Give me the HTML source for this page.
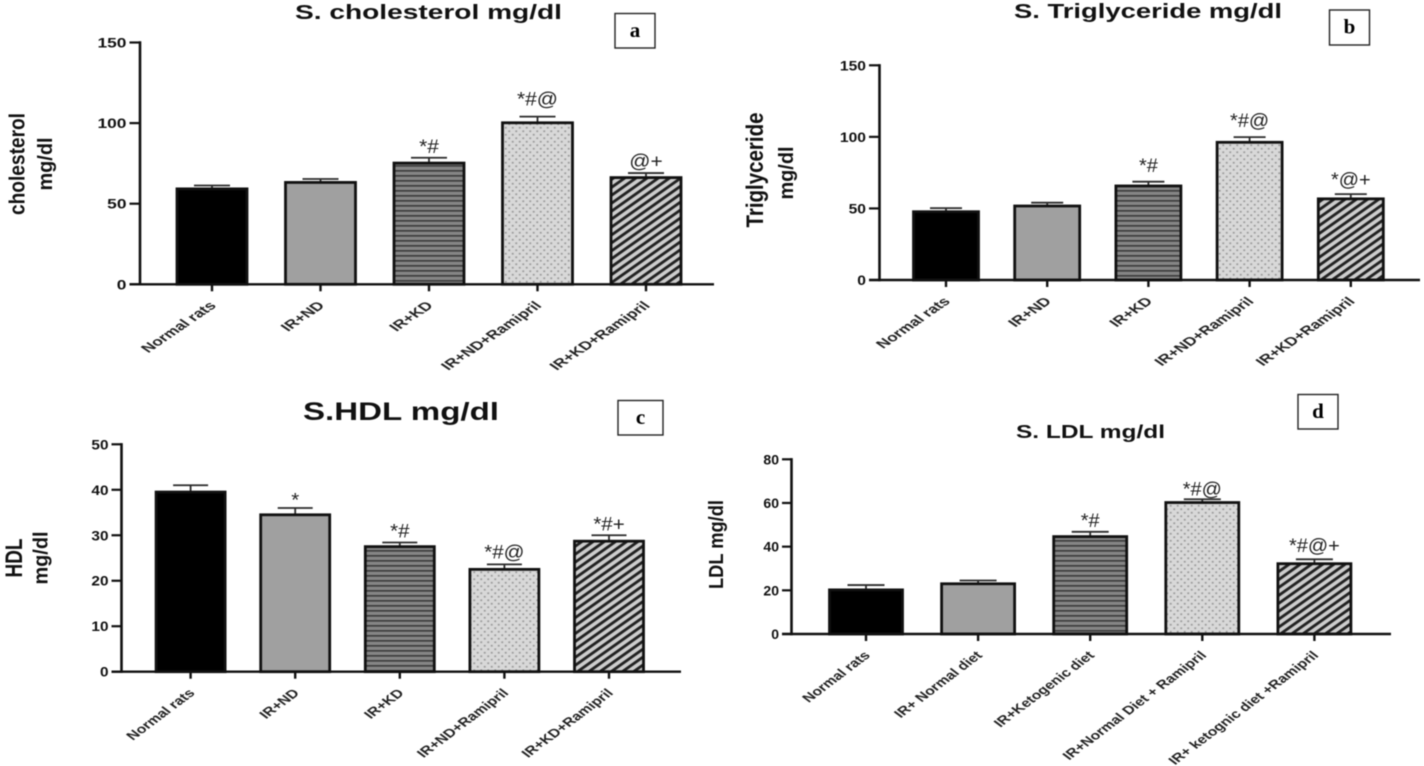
<!DOCTYPE html>
<html>
<head>
<meta charset="utf-8">
<title>Serum lipid profile charts</title>
<style>
html,body{margin:0;padding:0;background:#fff;width:1424px;height:766px;overflow:hidden}
svg{display:block;filter:blur(0.45px)}
text{font-family:"Liberation Sans",sans-serif;fill:#111}
.tick{font-weight:700;font-size:13.5px}
.cat{font-weight:700;font-size:12px;fill:#222}
.ttl{font-weight:700}
.ytl{font-weight:700}
.ann{font-size:19px;fill:#222}
.pl{font-family:"Liberation Serif",serif;font-weight:700;font-size:21px;fill:#000}
</style>
</head>
<body>
<svg id="chart" xmlns="http://www.w3.org/2000/svg" width="1424" height="766" viewBox="0 0 1424 766">
<defs>
<pattern id="p-h" patternUnits="userSpaceOnUse" width="8" height="5"><rect width="8" height="5" fill="#858585"/><rect width="8" height="1.7" fill="#3e3e3e"/></pattern>
<pattern id="p-d" patternUnits="userSpaceOnUse" width="7" height="7"><rect width="7" height="7" fill="#d8d8d8"/><circle cx="1.75" cy="1.75" r="1.05" fill="#9c9c9c"/><circle cx="5.25" cy="5.25" r="1.05" fill="#9c9c9c"/></pattern>
<pattern id="p-s" patternUnits="userSpaceOnUse" width="6.6" height="6.6" patternTransform="scale(1.2,0.85) rotate(45)"><rect width="6.6" height="6.6" fill="#cdcdcd"/><rect width="2.9" height="6.6" fill="#222"/></pattern>
</defs>
</svg>
<script>
// Panel a: serum cholesterol
const aCategories = ["Normal rats","IR+ND","IR+KD","IR+ND+Ramipril","IR+KD+Ramipril"];
const aValues = [59.2,63.2,75.2,100.2,66.2];
const aErrors = [2.1,2.1,3.3,3.8,2.8];
const aTicks = [0,50,100,150];
const aNotes = ["","","*#","*#@","@+"];
// Panel b: serum triglyceride
const bCategories = ["Normal rats","IR+ND","IR+KD","IR+ND+Ramipril","IR+KD+Ramipril"];
const bValues = [47.7,51.7,65.7,96.2,56.7];
const bErrors = [2.5,2.3,3,3.6,3.3];
const bTicks = [0,50,100,150];
const bNotes = ["","","*#","*#@","*@+"];
// Panel c: serum HDL
const cCategories = ["Normal rats","IR+ND","IR+KD","IR+ND+Ramipril","IR+KD+Ramipril"];
const cValues = [39.5,34.5,27.5,22.5,28.7];
const cErrors = [1.5,1.5,0.9,1.1,1.3];
const cTicks = [0,10,20,30,40,50];
const cNotes = ["","*","*#","*#@","*#+"];
// Panel d: serum LDL
const dCategories = ["Normal rats","IR+ Normal diet","IR+Ketogenic diet","IR+Normal Diet + Ramipril","IR+ ketognic diet +Ramipril"];
const dValues = [20.2,23,44.6,60.2,32.2];
const dErrors = [2.2,1.5,2.2,1.5,2];
const dTicks = [0,20,40,60,80];
const dNotes = ["","","*#","*#@","*#@+"];

const fills = ["#000000","#a0a0a0","url(#p-h)","url(#p-d)","url(#p-s)"];
const svg = document.getElementById('chart');
const NS = 'http://www.w3.org/2000/svg';
function make(tag, attrs, parent, txt){
  const n = document.createElementNS(NS, tag);
  for (const k in attrs) n.setAttribute(k, attrs[k]);
  if (txt !== undefined) n.textContent = txt;
  parent.appendChild(n);
  return n;
}
function drawPanel(id, cfg, cats, vals, errs, ticks, notes){
  const g = make('g', {}, svg);
  
  
  const yMax = ticks[ticks.length - 1];
  const y = v => cfg.y0 + (cfg.yTop - cfg.y0) * v / yMax;
  const x = i => cfg.x0 + cfg.step * i;

  // bars, error bars
  vals.forEach((v, i) => {
    const err = make('path', {d:`M${x(i)-cfg.cap/2} ${y(v+errs[i])}H${x(i)+cfg.cap/2}M${x(i)} ${y(v+errs[i])}V${y(v)}`, fill:'none', stroke:'#2a2a2a', 'stroke-width':1.8}, g);
    
    
    const bar = make('rect', {x:x(i)-cfg.bw/2, y:y(v), width:cfg.bw, height:cfg.y0-y(v), fill:fills[i], stroke:'#111', 'stroke-width':2.8}, g);
    
    
    if (notes[i]) {
      const ann = make('text', {class:'ann', 'text-anchor':'middle', transform:`translate(${x(i)},${y(v+errs[i])-cfg.noteGap[i]}) scale(${cfg.noteSx},1)`}, g, notes[i]);
      
      
    }
    const tk = make('line', {x1:x(i), x2:x(i), y1:cfg.y0, y2:cfg.y0+7, stroke:'#111', 'stroke-width':2.4}, g);
    
    
    const lab = make('text', {class:'cat', 'text-anchor':'end', transform:`translate(${x(i)+5},${cfg.y0+22}) scale(${cfg.catSx},1) rotate(-45)`}, g, cats[i]);
    
    
  });

  // axes
  const yAxis = make('line', {x1:cfg.axisX, x2:cfg.axisX, y1:cfg.yTop-1.2, y2:cfg.y0+1.2, stroke:'#111', 'stroke-width':2.6}, g);
  
  
  const xAxis = make('line', {x1:cfg.baseL, x2:cfg.baseR, y1:cfg.y0, y2:cfg.y0, stroke:'#111', 'stroke-width':2.4}, g);
  
  
  ticks.forEach(t => {
    const tk = make('line', {x1:cfg.baseL, x2:cfg.axisX, y1:y(t), y2:y(t), stroke:'#111', 'stroke-width':2.2}, g);
    
    
    const lab = make('text', {class:'tick', 'text-anchor':'end', transform:`translate(${cfg.baseL-3},${y(t)+5}) scale(${cfg.tickSx},1)`}, g, String(t));
    
    
  });

  // title
  const title = make('text', {class:'ttl', x:cfg.title.x, y:cfg.title.y, 'font-size':cfg.title.size, textLength:cfg.title.len, lengthAdjust:'spacingAndGlyphs'}, g, cfg.title.text);
  
  

  // y titles
  cfg.yTitles.forEach(t => {
    const yt = make('text', {class:'ytl', 'text-anchor':'middle', 'font-size':t.size, textLength:t.len, lengthAdjust:'spacingAndGlyphs', transform:`translate(${t.x},${t.y}) rotate(-90)`}, g, t.text);
    
    
  });

  // panel letter box
  const box = make('rect', {x:cfg.box.x, y:cfg.box.y, width:cfg.box.w, height:cfg.box.h, fill:'#fff', stroke:'#222', 'stroke-width':1.4}, g);
  
  
  const letter = make('text', {class:'pl', 'text-anchor':'middle', x:cfg.box.x+cfg.box.w/2, y:cfg.box.y+cfg.box.h/2+6}, g, id);
  
  
}

drawPanel('a', {
  axisX:140, baseL:129.5, baseR:714, y0:284.3, yTop:42.5, x0:212, step:108.5, bw:70, cap:36,
  noteGap:[0,0,5,11,5.5], noteSx:1.1, catSx:1.46, tickSx:1.29,
  title:{text:'S. cholesterol mg/dl', x:295, y:19, size:20, len:267},
  yTitles:[{text:'cholesterol', x:24.5, y:164, size:22, len:102},{text:'mg/dl', x:52, y:164, size:20, len:53}],
  box:{x:615, y:13.5, w:40, h:34.5}
}, aCategories, aValues, aErrors, aTicks, aNotes);

drawPanel('b', {
  axisX:879.5, baseL:869, baseR:1420, y0:280, yTop:65.3, x0:946, step:101.2, bw:65, cap:32,
  noteGap:[0,0,9.5,10,8], noteSx:1.05, catSx:1.44, tickSx:1.16,
  title:{text:'S. Triglyceride mg/dl', x:1014, y:18, size:20, len:268},
  yTitles:[{text:'Triglyceride', x:763, y:170, size:24, len:115},{text:'mg/dl', x:793, y:173, size:20, len:53}],
  box:{x:1329.5, y:10, w:40, h:35}
}, bCategories, bValues, bErrors, bTicks, bNotes);

drawPanel('c', {
  axisX:121.5, baseL:111.5, baseR:681, y0:671.7, yTop:444.3, x0:190.6, step:104.6, bw:69, cap:35,
  noteGap:[0,1.5,5,6,5], noteSx:1.08, catSx:1.33, tickSx:1.14,
  title:{text:'S.HDL mg/dl', x:303, y:420, size:25, len:196},
  yTitles:[{text:'HDL', x:22, y:558, size:24, len:39},{text:'mg/dl', x:47.5, y:558, size:20, len:53}],
  box:{x:618, y:400.5, w:45, h:34.5}
}, cCategories, cValues, cErrors, cTicks, cNotes);

drawPanel('d', {
  axisX:791.5, baseL:782, baseR:1391, y0:634, yTop:459.3, x0:866, step:112.1, bw:73, cap:37,
  noteGap:[0,0,5,3.6,7.5], noteSx:1.05, catSx:1.32, tickSx:1.04,
  title:{text:'S. LDL mg/dl', x:1016, y:438, size:18.5, len:149},
  yTitles:[{text:'LDL mg/dl', x:723, y:544.5, size:20, len:89}],
  box:{x:1298, y:394.5, w:40, h:34.5}
}, dCategories, dValues, dErrors, dTicks, dNotes);
</script>
</body>
</html>
